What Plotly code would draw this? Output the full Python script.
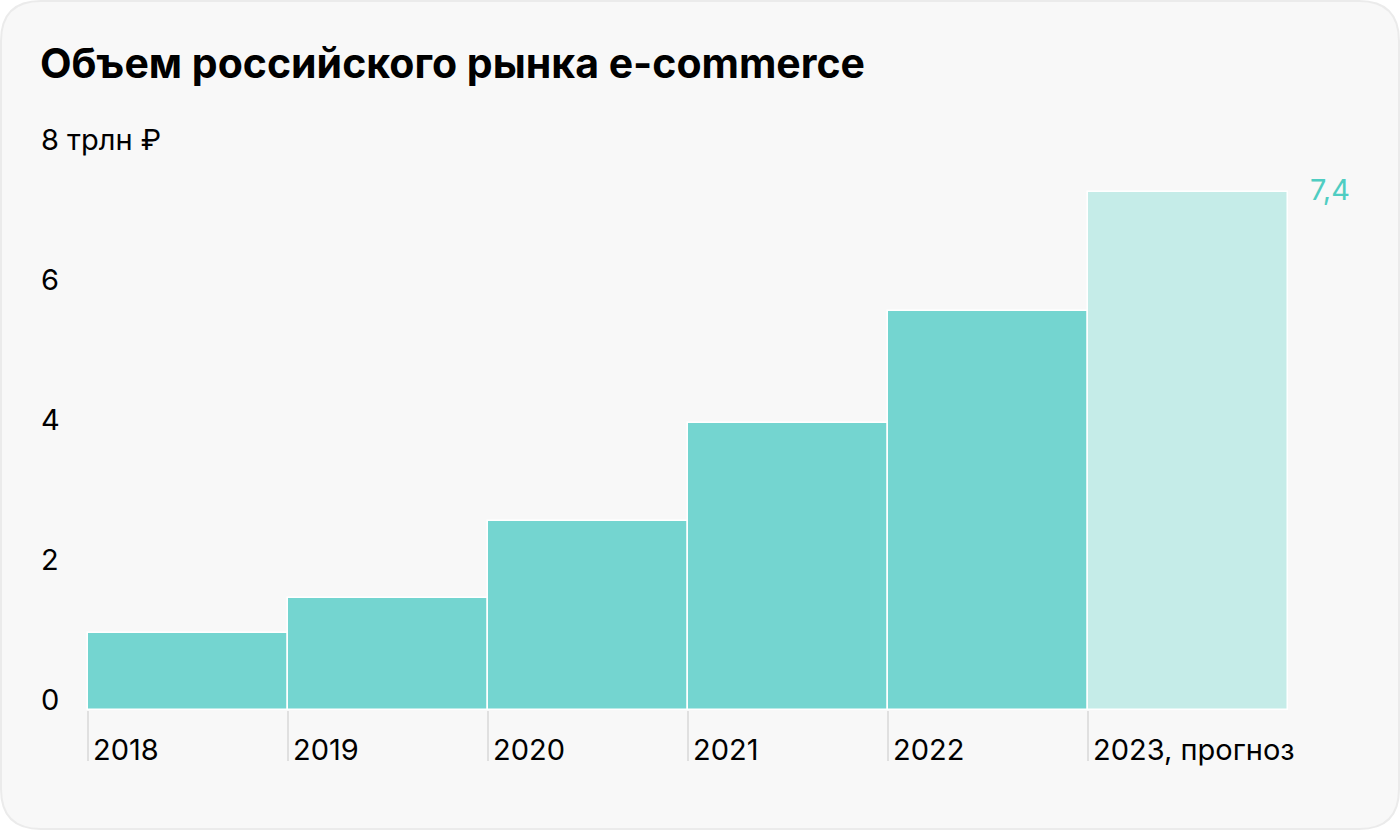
import plotly.graph_objects as go

# ---- data ----
years = ["2018", "2019", "2020", "2021", "2022", "2023, прогноз"]
values = [1.1, 1.6, 2.7, 4.1, 5.7, 7.4]
is_forecast = [False, False, False, False, False, True]
y_ticks = [0, 2, 4, 6, 8]
y_tick_text = ["0", "2", "4", "6", "8 трлн ₽"]
label_text = "7,4"

W, H = 1400, 830
BAR = "#74d5d0"
BAR_FC = "#c5ece8"
LABEL_C = "#4fcdc2"
FONT = "Inter"

def px(x):
    return x / W

def py(y):
    return 1 - y / H

positions = list(range(len(years)))
colors = [BAR_FC if f else BAR for f in is_forecast]

fig = go.Figure()
fig.add_trace(go.Bar(
    x=positions, y=values, width=1, offset=0,
    marker=dict(color=colors, line=dict(color="#ffffff", width=1.5)),
    hoverinfo="skip",
))

# value label on forecast bar
fig.add_annotation(
    x=positions[-1] + 1, y=values[-1], xref="x", yref="y",
    text=label_text, showarrow=False, xanchor="left", yanchor="middle",
    xshift=20, yshift=2, font=dict(family=FONT, size=29, color=LABEL_C),
)

# rounded card
x0, y0, x1, y1, r = 1, 1, 1399, 829, 40
path = (
    f"M {px(x0 + r)},{py(y0)} L {px(x1 - r)},{py(y0)} "
    f"Q {px(x1)},{py(y0)} {px(x1)},{py(y0 + r)} "
    f"L {px(x1)},{py(y1 - r)} Q {px(x1)},{py(y1)} {px(x1 - r)},{py(y1)} "
    f"L {px(x0 + r)},{py(y1)} Q {px(x0)},{py(y1)} {px(x0)},{py(y1 - r)} "
    f"L {px(x0)},{py(y0 + r)} Q {px(x0)},{py(y0)} {px(x0 + r)},{py(y0)} Z"
)
fig.add_shape(type="path", path=path, xref="paper", yref="paper",
              fillcolor="#f8f8f8", line=dict(color="#ebebeb", width=2), layer="below")

UNIT_X = 200.0
BAR_LEFT_PX = 88.0
x_left_px, x_right_px = 40.0, 1360.0
x_range = [(x_left_px - BAR_LEFT_PX) / UNIT_X, (x_right_px - BAR_LEFT_PX) / UNIT_X]

UNIT_Y = 70.0
ZERO_PX = 710.0
y_top_val = 8.5
y_top_px = ZERO_PX - y_top_val * UNIT_Y

fig.update_layout(
    template="none",
    width=W, height=H,
    margin=dict(l=0, r=0, t=0, b=0, pad=0),
    paper_bgcolor="#ffffff",
    plot_bgcolor="rgba(0,0,0,0)",
    showlegend=False,
    font=dict(family=FONT, color="#000000"),
    title=dict(
        text="<b>Объем российского рынка e-commerce</b>",
        x=px(40), xanchor="left", y=py(64), yanchor="middle",
        font=dict(family=FONT, size=41, color="#000000"),
        automargin=False,
    ),
    xaxis=dict(
        domain=[px(x_left_px), px(x_right_px)],
        range=x_range,
        tickmode="array", tickvals=positions, ticktext=years,
        ticks="outside", ticklen=50, tickwidth=2, tickcolor="#e0e0e0",
        ticklabelposition="outside right",
        ticklabelstandoff=14,
        ticklabelshift=4,
        tickfont=dict(family=FONT, size=29, color="#000000"),
        showgrid=False, zeroline=False, showline=False, fixedrange=True,
        automargin=False,
    ),
    yaxis=dict(
        domain=[py(ZERO_PX), py(y_top_px)],
        range=[0, y_top_val],
        anchor="free", position=px(37),
        tickmode="array", tickvals=y_ticks, ticktext=y_tick_text,
        ticks="", ticklabelposition="inside",
        ticklabeloverflow="allow",
        ticklabelshift=-10,
        tickfont=dict(family=FONT, size=29, color="#000000"),
        showgrid=False, zeroline=False, showline=False, fixedrange=True,
        automargin=False,
    ),
    bargap=0,
)

fig.write_html("out.html")
